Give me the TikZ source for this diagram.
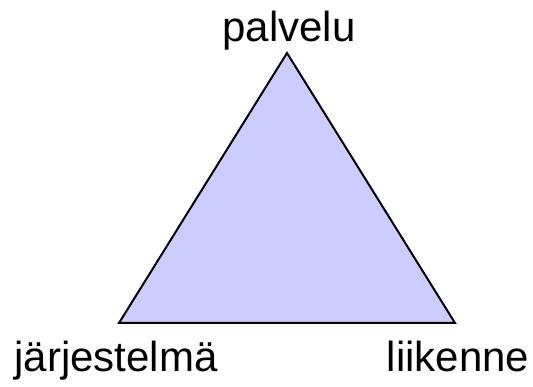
\documentclass[tikz,border=0pt]{standalone}
\usepackage{fontspec}
\setmainfont{Liberation Sans}
\definecolor{trifill}{RGB}{204,204,255}
\tikzset{
  lbl/.style={font=\fontsize{42}{50}\selectfont, inner sep=0pt, anchor=base},
  tri/.style={draw=black, fill=trifill, line width=2pt, line join=miter}
}
\begin{document}
\begin{tikzpicture}[x=1pt,y=-1pt]
\useasboundingbox (0,0) rectangle (533,387);
\coordinate (top) at (287,53);
\coordinate (bl) at (119,323);
\coordinate (br) at (455,323);
\draw[tri] (top) -- (bl) -- (br) -- cycle;
\node[lbl] (p) at (289,42) {palvelu};
\node[lbl] (j) at (116,372) {järjestelmä};
\node[lbl] (l) at (458,372) {liikenne};
\end{tikzpicture}
\end{document}
